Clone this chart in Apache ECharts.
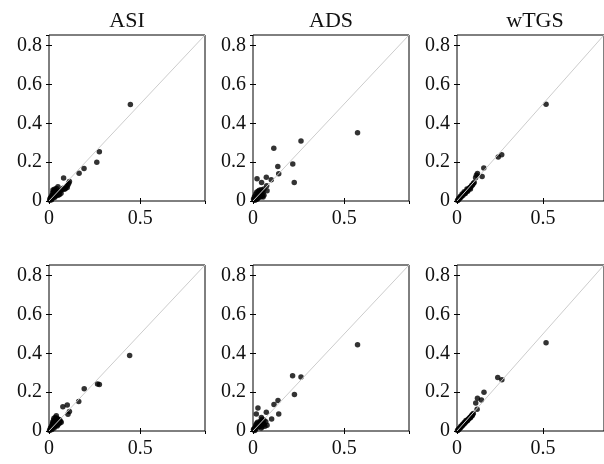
<!DOCTYPE html>
<html><head><meta charset="utf-8">
<script src="https://cdn.jsdelivr.net/npm/echarts@6/dist/echarts.min.js"></script>
<style>html,body{margin:0;padding:0;background:#fff}#c{width:604px;height:464px}</style>
</head><body><div id="c"></div>
<script>
const titles = ['ASI', 'ADS', 'wTGS'];
const xTicks = [0, 0.5];
const yTicks = [0, 0.2, 0.4, 0.6, 0.8];
const axisMax = 0.855;

const asiTop = [[0.446,0.497],[0.276,0.254],[0.262,0.199],[0.192,0.168],[0.165,0.143],[0.080,0.118],[0.112,0.101],[0.108,0.092],[0.104,0.084],[0.100,0.070],[0.096,0.076],[0.090,0.064],[0.085,0.060],[0.078,0.066],[0.072,0.058],[0.049,0.073],[0.040,0.064],[0.030,0.060],[0.022,0.057],[0.026,0.050],[0.035,0.052],[0.042,0.046],[0.048,0.040],[0.055,0.046],[0.062,0.052],[0.066,0.040],[0.058,0.034],[0.050,0.030],[0.044,0.036],[0.038,0.026],[0.032,0.030],[0.028,0.038],[0.020,0.042],[0.016,0.030],[0.024,0.022],[0.018,0.014],[0.012,0.020],[0.010,0.008],[0.006,0.012],[0.004,0.004],[0.014,0.006],[0.008,0.016],[0.030,0.018],[0.036,0.040],[0.020,0.026]];
const adsTop = [[0.573,0.351],[0.263,0.309],[0.114,0.272],[0.218,0.190],[0.136,0.178],[0.226,0.095],[0.141,0.140],[0.073,0.122],[0.100,0.109],[0.022,0.114],[0.047,0.095],[0.075,0.078],[0.077,0.053],[0.060,0.062],[0.050,0.050],[0.055,0.040],[0.045,0.058],[0.040,0.045],[0.035,0.055],[0.030,0.040],[0.028,0.050],[0.020,0.045],[0.015,0.035],[0.025,0.030],[0.035,0.028],[0.045,0.032],[0.050,0.025],[0.040,0.020],[0.030,0.018],[0.020,0.020],[0.012,0.015],[0.018,0.008],[0.008,0.022],[0.006,0.006],[0.010,0.004],[0.003,0.010],[0.025,0.012],[0.060,0.030],[0.055,0.020],[0.038,0.036]];
const wtgsTop = [[0.518,0.498],[0.260,0.238],[0.240,0.226],[0.156,0.170],[0.146,0.126],[0.119,0.142],[0.113,0.133],[0.108,0.120],[0.100,0.095],[0.095,0.090],[0.090,0.082],[0.085,0.080],[0.080,0.072],[0.075,0.070],[0.070,0.063],[0.065,0.060],[0.060,0.053],[0.055,0.050],[0.050,0.046],[0.058,0.062],[0.045,0.040],[0.040,0.038],[0.035,0.030],[0.030,0.028],[0.025,0.022],[0.020,0.018],[0.015,0.013],[0.010,0.009],[0.006,0.005],[0.003,0.002],[0.042,0.048],[0.030,0.036],[0.020,0.024],[0.048,0.038],[0.062,0.050],[0.012,0.016],[0.078,0.062]];
const asiBottom = [[0.442,0.389],[0.266,0.242],[0.276,0.240],[0.193,0.218],[0.163,0.152],[0.076,0.125],[0.100,0.134],[0.112,0.100],[0.104,0.086],[0.067,0.045],[0.040,0.078],[0.027,0.066],[0.035,0.070],[0.045,0.065],[0.050,0.060],[0.058,0.058],[0.062,0.050],[0.055,0.045],[0.048,0.048],[0.042,0.052],[0.036,0.055],[0.030,0.050],[0.025,0.055],[0.020,0.045],[0.028,0.040],[0.035,0.040],[0.042,0.036],[0.050,0.034],[0.045,0.026],[0.038,0.028],[0.032,0.024],[0.025,0.030],[0.018,0.034],[0.014,0.024],[0.020,0.018],[0.012,0.012],[0.008,0.016],[0.006,0.006],[0.016,0.008],[0.003,0.003],[0.028,0.016],[0.022,0.038],[0.058,0.040]];
const adsBottom = [[0.573,0.444],[0.217,0.284],[0.263,0.278],[0.227,0.188],[0.137,0.157],[0.115,0.136],[0.141,0.088],[0.102,0.062],[0.073,0.097],[0.027,0.118],[0.018,0.088],[0.046,0.069],[0.070,0.048],[0.077,0.030],[0.050,0.022],[0.060,0.055],[0.050,0.060],[0.040,0.050],[0.045,0.045],[0.035,0.042],[0.055,0.040],[0.030,0.035],[0.025,0.045],[0.020,0.038],[0.015,0.030],[0.040,0.030],[0.035,0.025],[0.030,0.020],[0.025,0.028],[0.020,0.022],[0.012,0.018],[0.015,0.010],[0.008,0.012],[0.005,0.005],[0.010,0.003],[0.003,0.009],[0.060,0.035],[0.045,0.015],[0.065,0.025]];
const wtgsBottom = [[0.518,0.455],[0.237,0.276],[0.261,0.264],[0.157,0.199],[0.119,0.169],[0.142,0.160],[0.109,0.144],[0.117,0.112],[0.095,0.090],[0.090,0.085],[0.085,0.080],[0.080,0.074],[0.075,0.069],[0.070,0.064],[0.065,0.060],[0.060,0.054],[0.055,0.050],[0.050,0.046],[0.045,0.040],[0.040,0.037],[0.035,0.031],[0.030,0.027],[0.025,0.022],[0.020,0.017],[0.015,0.013],[0.010,0.008],[0.006,0.005],[0.003,0.002],[0.052,0.054],[0.042,0.044],[0.032,0.034],[0.022,0.024],[0.078,0.068],[0.062,0.055],[0.012,0.013],[0.088,0.078]];

const panels = [asiTop, adsTop, wtgsTop, asiBottom, adsBottom, wtgsBottom];
const colLeft = [49, 253, 457];
const rowTop = [35, 265];
const W = 156, H = 166;
const FONT = '"Liberation Serif", "Times New Roman", serif';
const TXT = '#111';

function fmtFactory(ticks) {
  return function (v) {
    for (const t of ticks) { if (Math.abs(v - t) < 1e-9) return String(t); }
    return '';
  };
}

const grid = [], xAxis = [], yAxis = [], series = [], graphic = [];
panels.forEach((data, i) => {
  const r = Math.floor(i / 3), c = i % 3;
  grid.push({ left: colLeft[c], top: rowTop[r], width: W, height: H, show: true, borderColor: '#000', borderWidth: 1, backgroundColor: 'transparent', containLabel: false });
  const base = { type: 'value', gridIndex: i, min: 0, max: axisMax, splitLine: { show: false }, axisLine: { show: false },
    axisTick: { show: true, inside: true, length: 3, lineStyle: { color: '#000', width: 1 } } };
  xAxis.push(Object.assign({}, base, { position: 'bottom', interval: 0.5,
    axisLabel: { show: true, margin: 8, fontFamily: FONT, fontSize: 20, color: TXT, formatter: fmtFactory(xTicks), showMaxLabel: false } }));
  xAxis.push(Object.assign({}, base, { position: 'top', interval: 0.5, axisLabel: { show: false } }));
  yAxis.push(Object.assign({}, base, { position: 'left', interval: 0.2,
    axisLabel: { show: true, margin: 7, fontFamily: FONT, fontSize: 20, color: TXT, formatter: fmtFactory(yTicks), showMaxLabel: false } }));
  yAxis.push(Object.assign({}, base, { position: 'right', interval: 0.2, axisLabel: { show: false } }));
  series.push({ type: 'scatter', xAxisIndex: 2 * i, yAxisIndex: 2 * i, data: data, symbol: 'circle', symbolSize: 5.5,
    itemStyle: { color: '#000' }, z: 2, silent: true, animation: false });
  series.push({ type: 'line', xAxisIndex: 2 * i, yAxisIndex: 2 * i, data: [[0, 0], [axisMax, axisMax]], symbol: 'none',
    lineStyle: { color: '#cccccc', width: 1 }, z: 3, silent: true, animation: false });
  if (r === 0) {
    graphic.push({ type: 'text', x: colLeft[c] + W / 2, y: 21, style: { text: titles[c], textAlign: 'center', textVerticalAlign: 'middle', font: '22px ' + FONT, fill: TXT } });
  }
});

const chart = echarts.init(document.getElementById('c'), null, { renderer: 'canvas' });
chart.setOption({ animation: false, backgroundColor: '#fff', grid, xAxis, yAxis, series, graphic });
</script>
</body></html>
